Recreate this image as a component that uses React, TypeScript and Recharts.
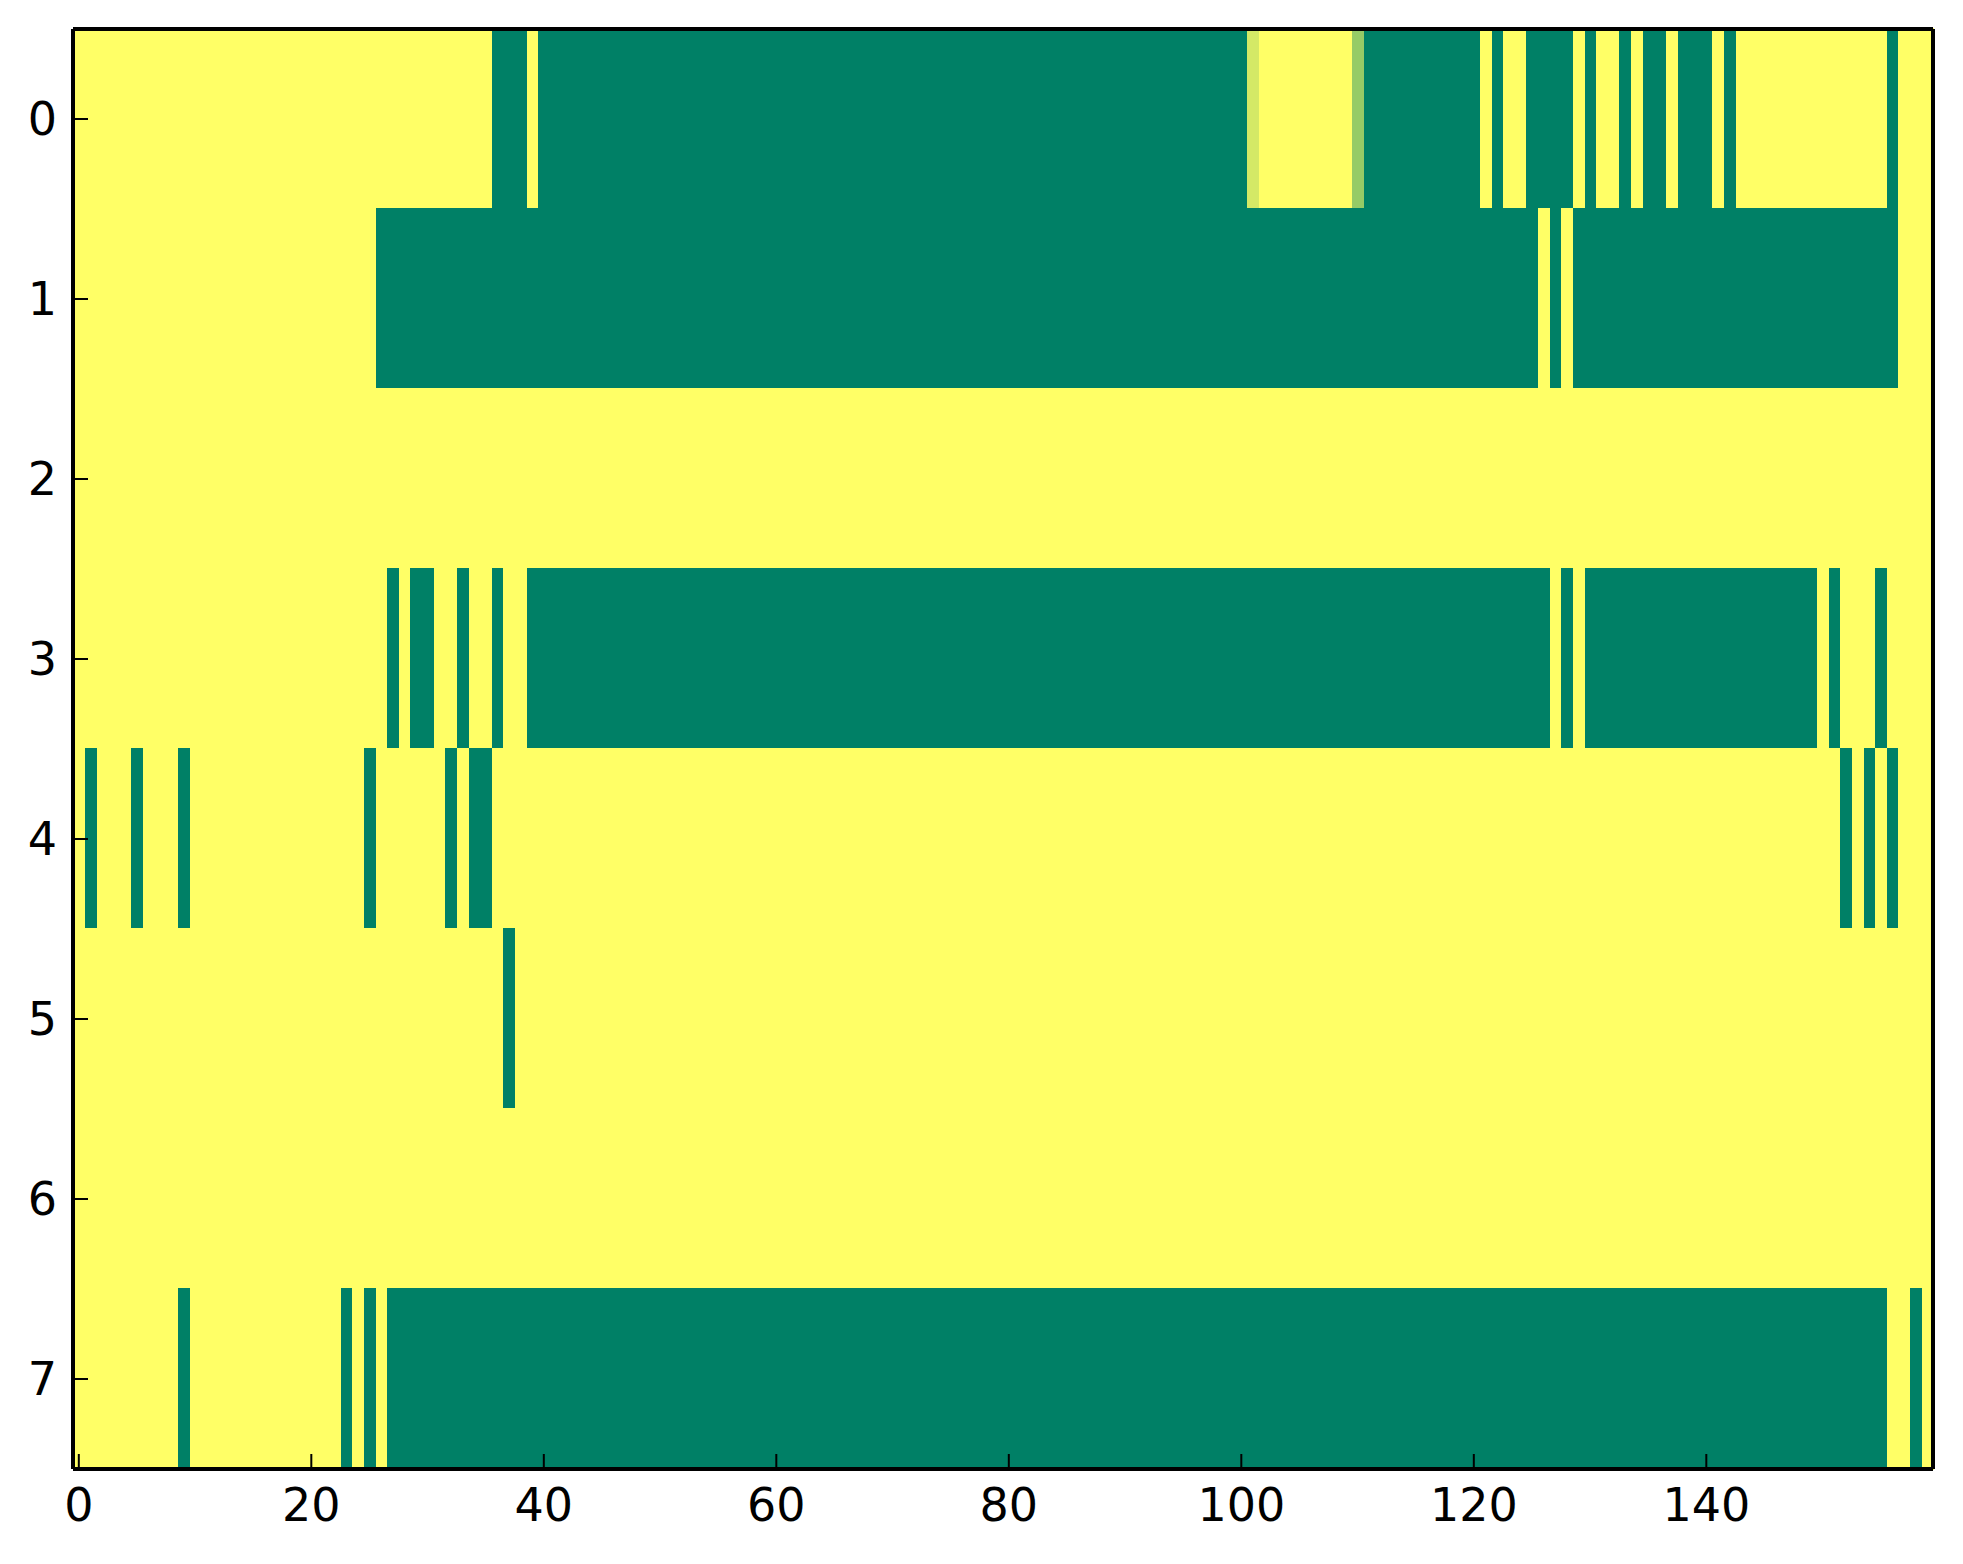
import React from 'react';
import { BarChart, Bar, XAxis, YAxis, Cell } from 'recharts';

// Each row of the heat map as runs of [value, number of columns], read left to right.
type Run = [number, number];

const row0Runs: Run[] = [
  [1, 36], [0, 3], [1, 1], [0, 61], [0.83, 1], [1, 8], [0.59, 1], [0, 10], [1, 1], [0, 1],
  [1, 2], [0, 4], [1, 1], [0, 1], [1, 2], [0, 1], [1, 1], [0, 2], [1, 1], [0, 3],
  [1, 1], [0, 1], [1, 13], [0, 1], [1, 3],
];
const row1Runs: Run[] = [[1, 26], [0, 100], [1, 1], [0, 1], [1, 1], [0, 28], [1, 3]];
const row2Runs: Run[] = [[1, 160]];
const row3Runs: Run[] = [
  [1, 27], [0, 1], [1, 1], [0, 2], [1, 2], [0, 1], [1, 2], [0, 1], [1, 2], [0, 88],
  [1, 1], [0, 1], [1, 1], [0, 20], [1, 1], [0, 1], [1, 3], [0, 1], [1, 4],
];
const row4Runs: Run[] = [
  [1, 1], [0, 1], [1, 3], [0, 1], [1, 3], [0, 1], [1, 15], [0, 1], [1, 6], [0, 1],
  [1, 1], [0, 2], [1, 116], [0, 1], [1, 1], [0, 1], [1, 1], [0, 1], [1, 3],
];
const row5Runs: Run[] = [[1, 37], [0, 1], [1, 122]];
const row6Runs: Run[] = [[1, 160]];
const row7Runs: Run[] = [
  [1, 9], [0, 1], [1, 13], [0, 1], [1, 1], [0, 1], [1, 1], [0, 129], [1, 2], [0, 1], [1, 1],
];

const rowRuns: Run[][] = [row0Runs, row1Runs, row2Runs, row3Runs, row4Runs, row5Runs, row6Runs, row7Runs];

const COLUMN_COUNT = 160;
const columns: number[] = Array.from({ length: COLUMN_COUNT }, (_, i) => i);
const yTickLabels: number[] = [0, 1, 2, 3, 4, 5, 6, 7];
const yTickValues: number[] = yTickLabels.map((l) => l + 0.5);

function expandRuns(runs: Run[]): number[] {
  const out: number[] = [];
  runs.forEach(([v, n]) => {
    for (let k = 0; k < n; k++) out.push(v);
  });
  return out;
}

const grid: number[][] = rowRuns.map(expandRuns);

const data = columns.map((c) => {
  const d: Record<string, number> = { col: c };
  yTickLabels.forEach((r) => {
    d['r' + r] = 1;
  });
  return d;
});

// matplotlib "summer" colormap
function summer(v: number): string {
  const r = Math.round(255 * v);
  const g = Math.round(255 * (0.5 + 0.5 * v));
  return `rgb(${r},${g},102)`;
}

const W = 1955;
const H = 1556;
const FONT = "'DejaVu Sans', sans-serif";
const tickStyle = { fill: '#000', fontSize: 46, fontFamily: FONT };
const axisLineStyle = { stroke: '#000', strokeWidth: 4 };
const tickLineStyle = { stroke: '#000', strokeWidth: 2 };
const MARGIN = { top: 20, right: 29, left: 5, bottom: 35 };
const BAR_SIZE = 1860 / COLUMN_COUNT;

function axes(hide: boolean) {
  return [
    <XAxis
      key="xb"
      dataKey="col"
      type="category"
      interval={19}
      height={60}
      tickSize={-15}
      tickMargin={34}
      tick={hide ? false : tickStyle}
      axisLine={hide ? false : axisLineStyle}
      tickLine={hide ? false : tickLineStyle}
    />,
    <XAxis
      key="xt"
      xAxisId="top"
      orientation="top"
      dataKey="col"
      type="category"
      interval={19}
      height={1}
      tickSize={-15}
      tick={false}
      axisLine={hide ? false : axisLineStyle}
      tickLine={hide ? false : tickLineStyle}
    />,
    <YAxis
      key="yl"
      type="number"
      domain={[0, 8]}
      reversed
      ticks={yTickValues}
      interval={0}
      tickFormatter={(v: number) => String(v - 0.5)}
      width={60}
      tickSize={-15}
      tickMargin={31}
      tick={hide ? false : tickStyle}
      axisLine={hide ? false : axisLineStyle}
      tickLine={hide ? false : tickLineStyle}
    />,
    <YAxis
      key="yr"
      yAxisId="right"
      orientation="right"
      type="number"
      domain={[0, 8]}
      reversed
      ticks={yTickValues}
      interval={0}
      width={1}
      tickSize={-15}
      tick={false}
      axisLine={hide ? false : axisLineStyle}
      tickLine={hide ? false : tickLineStyle}
    />,
  ];
}

export default function App() {
  return (
    <div style={{ position: 'relative', width: W, height: H, fontFamily: FONT }}>
      <div style={{ position: 'absolute', left: 0, top: 0 }}>
        <BarChart width={W} height={H} data={data} margin={MARGIN} barCategoryGap={0} barGap={0}>
          {yTickLabels.map((r) => (
            <Bar
              key={r}
              dataKey={'r' + r}
              stackId="grid"
              isAnimationActive={false}
              barSize={BAR_SIZE}
            >
              {columns.map((c) => {
                const col = summer(grid[r][c]);
                return (
                  <Cell
                    key={c}
                    fill={col}
                    stroke={col}
                    strokeWidth={1.5}
                    shapeRendering="crispEdges"
                  />
                );
              })}
            </Bar>
          ))}
          {axes(true)}
        </BarChart>
      </div>
      <div style={{ position: 'absolute', left: 0, top: 0, pointerEvents: 'none' }}>
        <BarChart width={W} height={H} data={data} margin={MARGIN} barCategoryGap={0} barGap={0}>
          <Bar
            dataKey="r0"
            stackId="frame"
            fill="none"
            stroke="none"
            isAnimationActive={false}
            barSize={BAR_SIZE}
          />
          <Bar
            dataKey="r0"
            xAxisId="top"
            yAxisId="right"
            stackId="frameRight"
            fill="none"
            stroke="none"
            isAnimationActive={false}
            barSize={BAR_SIZE}
          />
          {axes(false)}
        </BarChart>
      </div>
    </div>
  );
}
